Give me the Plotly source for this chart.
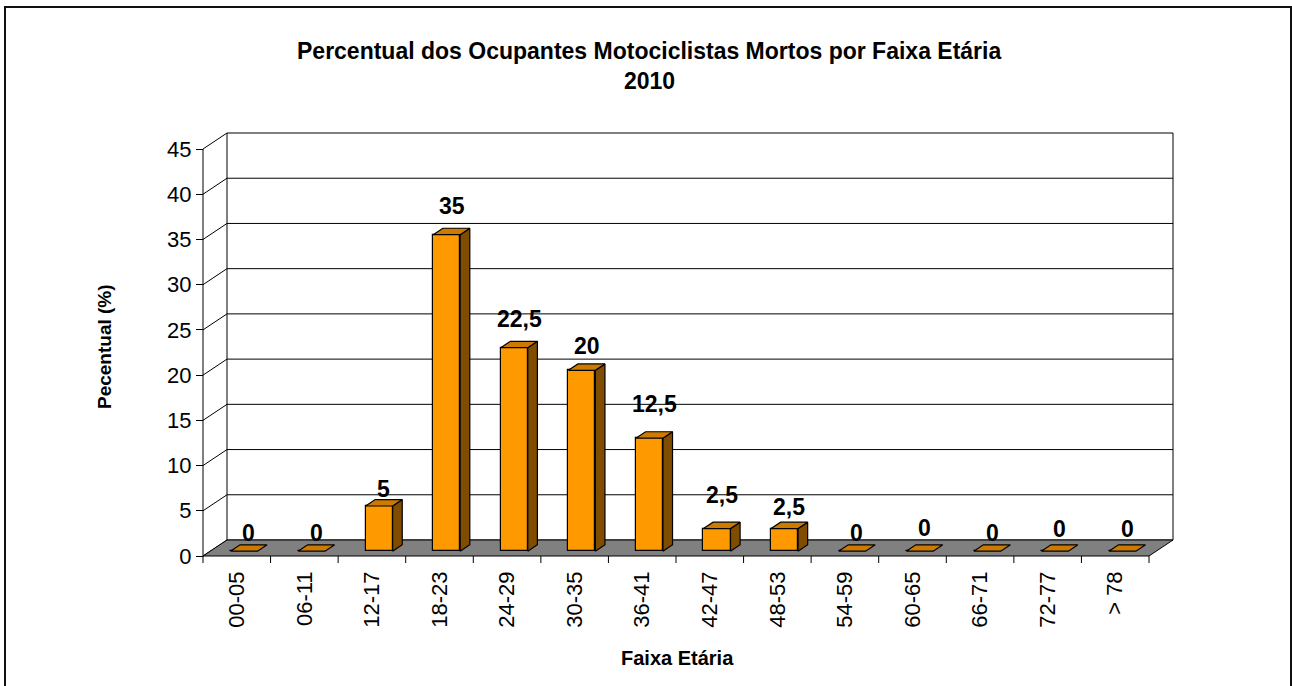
import plotly.graph_objects as go

# ---- data ----
categories = ["00-05", "06-11", "12-17", "18-23", "24-29", "30-35", "36-41",
              "42-47", "48-53", "54-59", "60-65", "66-71", "72-77", "> 78"]
values = [0, 0, 5, 35, 22.5, 20, 12.5, 2.5, 2.5, 0, 0, 0, 0, 0]
y_ticks = [0, 5, 10, 15, 20, 25, 30, 35, 40, 45]
title_line1 = "Percentual dos Ocupantes Motociclistas Mortos por Faixa Etária"
title_line2 = "2010"
x_title = "Faixa Etária"
y_title = "Pecentual (%)"

# ---- geometry (pixel layout of the pseudo-3D frame) ----
W, H = 1292, 686
X0_PX, X1_PX = 203.0, 1149.0      # front axis left/right
Y0_PX, Y45_PX = 556.0, 149.0      # front axis value 0 / 45
P = (X1_PX - X0_PX) / len(categories)
S = (Y0_PX - Y45_PX) / 45.0
DEPTH_DX_PX, DEPTH_DY_PX = 24.0, 16.0
ddx = DEPTH_DX_PX / P
ddy = DEPTH_DY_PX / S
f0, f1 = 0.3, 0.7                  # bar depth slice
bw = 0.4
n = len(categories)
ymax = 45

x_range = [-X0_PX / P, (W - X0_PX) / P]
y_range = [(Y0_PX - H) / S, Y0_PX / S]

FONT = "Liberation Sans, Arial, Helvetica, sans-serif"
FRONT = "#FF9900"
TOP = "#CC7A00"
SIDE = "#7F4C00"
FLOOR = "#808080"

label_offsets = [12, 12, 11, 22, 22, 18, 28, 27, 15, 12, 17, 12, 16, 16]

shapes = []
# back wall
shapes.append(dict(type="rect", xref="x", yref="y", x0=ddx, x1=n + ddx, y0=ddy, y1=ymax + ddy,
                   fillcolor="white", line=dict(color="black", width=1), layer="below"))
for v in y_ticks[1:-1]:
    shapes.append(dict(type="line", xref="x", yref="y", x0=ddx, x1=n + ddx, y0=v + ddy, y1=v + ddy,
                       line=dict(color="black", width=1), layer="below"))
# side wall
shapes.append(dict(type="line", xref="x", yref="y", x0=0, x1=0, y0=0, y1=ymax,
                   line=dict(color="black", width=1), layer="below"))
for v in y_ticks:
    shapes.append(dict(type="line", xref="x", yref="y", x0=0, x1=ddx, y0=v, y1=v + ddy,
                       line=dict(color="black", width=1), layer="below"))
# floor
shapes.append(dict(type="path", xref="x", yref="y",
                   path=f"M 0 0 L {n} 0 L {n + ddx} {ddy} L {ddx} {ddy} Z",
                   fillcolor=FLOOR, line=dict(color="black", width=1), layer="below"))
# category boundary ticks
tick_len = 7.0 / S
for k in range(n + 1):
    shapes.append(dict(type="line", xref="x", yref="y", x0=k, x1=k, y0=0, y1=-tick_len,
                       line=dict(color="black", width=1), layer="below"))
# outer border
shapes.append(dict(type="rect", xref="paper", yref="paper",
                   x0=5 / W, x1=1291 / W, y0=1 - 7 / H, y1=-0.01,
                   line=dict(color="#111111", width=2), fillcolor="rgba(0,0,0,0)", layer="above"))

fig = go.Figure()

# bar front faces
fig.add_trace(go.Bar(
    x=[i + 0.5 + f0 * ddx for i in range(n)],
    y=values,
    base=f0 * ddy,
    width=bw,
    marker=dict(color=FRONT, line=dict(color="black", width=1.2)),
    hoverinfo="skip", showlegend=False,
))

bdx = (f1 - f0) * ddx
bdy = (f1 - f0) * ddy
for i, v in enumerate(values):
    xl = i + 0.5 - bw / 2 + f0 * ddx
    xr = xl + bw
    yb = f0 * ddy
    yt = v + f0 * ddy
    if v > 0:
        # side face
        fig.add_trace(go.Scatter(
            x=[xr, xr + bdx, xr + bdx, xr, xr],
            y=[yb, yb + bdy, yt + bdy, yt, yb],
            mode="lines", fill="toself", fillcolor=SIDE,
            line=dict(color="black", width=1.2), hoverinfo="skip", showlegend=False))
    # top face
    fig.add_trace(go.Scatter(
        x=[xl, xr, xr + bdx, xl + bdx, xl],
        y=[yt, yt, yt + bdy, yt + bdy, yt],
        mode="lines", fill="toself", fillcolor=TOP,
        line=dict(color="black", width=1.2), hoverinfo="skip", showlegend=False))


def fmt(v):
    s = f"{v:g}"
    return s.replace(".", ",")


annotations = []
for i, v in enumerate(values):
    annotations.append(dict(
        x=i + 0.5 + 0.5 * ddx, y=v + f1 * ddy, xref="x", yref="y",
        text=f"<b>{fmt(v)}</b>", showarrow=False, yanchor="middle", xanchor="center",
        yshift=label_offsets[i], font=dict(family=FONT, size=23, color="black")))

annotations += [
    dict(x=649 / W, y=1 - 51 / H, xref="paper", yref="paper", text=f"<b>{title_line1}</b>",
         showarrow=False, xanchor="center", yanchor="middle",
         font=dict(family=FONT, size=23, color="black")),
    dict(x=649 / W, y=1 - 81 / H, xref="paper", yref="paper", text=f"<b>{title_line2}</b>",
         showarrow=False, xanchor="center", yanchor="middle",
         font=dict(family=FONT, size=23, color="black")),
    dict(x=677 / W, y=1 - 658 / H, xref="paper", yref="paper", text=f"<b>{x_title}</b>",
         showarrow=False, xanchor="center", yanchor="middle",
         font=dict(family=FONT, size=20, color="black")),
    dict(x=104 / W, y=1 - 347 / H, xref="paper", yref="paper", text=f"<b>{y_title}</b>",
         showarrow=False, xanchor="center", yanchor="middle", textangle=-90,
         font=dict(family=FONT, size=19, color="black")),
]

fig.update_layout(
    width=W, height=H,
    margin=dict(l=0, r=0, t=0, b=0, pad=0),
    paper_bgcolor="white", plot_bgcolor="white",
    shapes=shapes, annotations=annotations,
    showlegend=False, bargap=0,
    xaxis=dict(range=x_range, anchor="free", position=(H - Y0_PX) / H,
               tickvals=[i + 0.5 for i in range(n)], ticktext=categories,
               tickangle=-90, ticks="", showgrid=False, zeroline=False, showline=False,
               ticklabelstandoff=10,
               tickfont=dict(family=FONT, size=22, color="black"), fixedrange=True),
    yaxis=dict(range=y_range, anchor="free", position=X0_PX / W, side="left",
               tickvals=y_ticks, ticktext=[str(t) for t in y_ticks],
               ticks="outside", ticklen=7, tickcolor="black", tickwidth=1,
               showgrid=False, zeroline=False, showline=False,
               tickfont=dict(family=FONT, size=22, color="black"), fixedrange=True),
)

fig.write_html("out.html", config={"displayModeBar": False},
               post_script="document.body.style.margin='0';document.body.style.overflow='hidden';")
